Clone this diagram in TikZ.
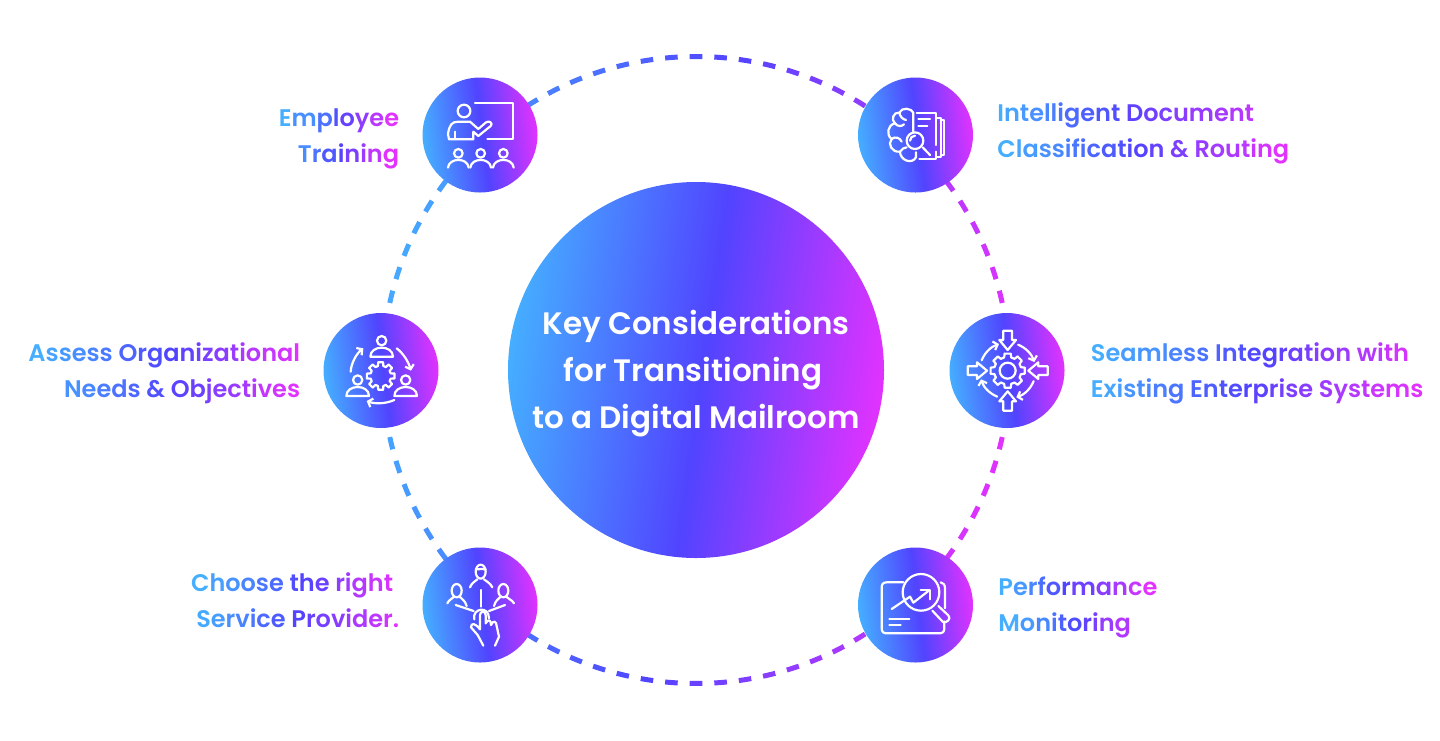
\documentclass[tikz,border=0pt]{standalone}
\usepackage{fontspec}
\setmainfont{Poppins SemiBold}
\usetikzlibrary {arrows.meta, positioning}

\definecolor{gradsky}{HTML}{45AEFF}
\definecolor{graddeep}{HTML}{5144FF}
\definecolor{gradpink}{HTML}{E232FF}

\pgfdeclarehorizontalshading{corefill}{100bp}{
    color(0bp)=(gradsky); color(25bp)=(gradsky); color(51bp)=(graddeep);
    color(75bp)=(gradpink); color(100bp)=(gradpink)
}

\newcommand{\setgrad}[1]{%
    \pgfmathsetmacro\gradpct{max(0,min(100,#1<.5 ? 200*#1 : 200*(#1-.5)))}%
    \pgfmathparse{#1<.5 ? 1 : 0}%
    \ifnum\pgfmathresult>0
        \colorlet{gradnow}{graddeep!\gradpct!gradsky}%
    \else
        \colorlet{gradnow}{gradpink!\gradpct!graddeep}%
    \fi
}

\ExplSyntaxOn
\int_new:N \l_gradpos_int
\NewDocumentCommand{\gradline}{mmm}{
    \int_zero:N \l_gradpos_int
    \str_map_inline:nn {#3}{
        \int_incr:N \l_gradpos_int
        \setgrad{\fp_eval:n {#1 + (#2 - #1) * (\l_gradpos_int - 1) / (\str_count:n {#3} - 1)}}
        {\color{gradnow}{}##1}
    }
}
\ExplSyntaxOff

\newcommand{\gearwheel}[4]{%
    \foreach \a in {0,45,...,315} {
        \draw[iconline]
            ([shift={(#1,#2)}]\a-10:#3) -- ([shift={(#1,#2)}]\a+10:#3)
            -- ([shift={(#1,#2)}]\a+15:#4) -- ([shift={(#1,#2)}]\a+30:#4)
            -- ([shift={(#1,#2)}]\a+35:#3);
    }
}

\tikzset{
    core/.style={circle, minimum size=376pt, inner sep=0pt, shading=corefill, shading angle=-8},
    coretitle/.style={inner sep=0pt, text=white, align=center, font=\fontsize{31}{47}\selectfont},
    hub/.style={circle, minimum size=115pt, inner sep=0pt, shading=corefill, shading angle=7},
    labelnote/.style={inner sep=0pt, font=\fontsize{24}{36}\selectfont},
    iconline/.style={draw=white, line width=2.2pt, line cap=round, line join=round},
    iconarrow/.style={iconline, -{Straight Barb[length=4pt,width=9pt]}},
}

\begin{document}
\begin{tikzpicture}[x=1pt, y=-1pt]
    \useasboundingbox (0,0) rectangle (1440,740);

    \node[core] (core) at (696,370) {};
    \node[coretitle, yshift=-4pt] (coretext) at (core)
        {Key Considerations\\for Transitioning\hspace*{6pt}\mbox{}\\to a Digital Mailroom};

    \foreach \a in {0,4.5,...,355.5} {
        \pgfmathsetmacro\gradpos{.51+.49*(cos(\a)*cos(8)+sin(\a)*sin(8))}
        \setgrad{\gradpos}
        \draw[gradnow, line width=5pt] (core.center) ++(\a-1.15:313.5)
            arc[start angle=\a-1.15, delta angle=2.3, radius=313.5];
    }

    \node[hub] (training)    at (480,135)   {};
    \node[hub] (classify)    at (915.5,135) {};
    \node[hub] (assess)      at (381,370.5) {};
    \node[hub] (integration) at (1007,370.5) {};
    \node[hub] (provider)    at (480,605)   {};
    \node[hub] (monitoring)  at (915.5,605) {};

    \node[labelnote, align=right, left=23pt of training, yshift=-4pt]
        (trainingtext) {\gradline{0}{1}{Employee}\\\gradline{.16}{1}{Training}};
    \node[labelnote, align=left, right=24pt of classify, yshift=2pt]
        (classifytext) {\gradline{0}{.88}{Intelligent Document}\\\gradline{0}{1}{Classification & Routing}};
    \node[labelnote, align=right, left=23pt of assess, yshift=-3pt]
        (assesstext) {\gradline{0}{1}{Assess Organizational}\\\gradline{.13}{1}{Needs & Objectives}};
    \node[labelnote, align=left, right=26pt of integration, yshift=-3pt]
        (integrationtext) {\gradline{0}{.955}{Seamless Integration with}\\\gradline{0}{1}{Existing Enterprise Systems}};
    \node[labelnote, align=right, left=23pt of provider, yshift=5pt]
        (providertext) {\gradline{0}{.97}{Choose the right}\hspace*{6pt}\\\gradline{.02}{1}{Service Provider.}};
    \node[labelnote, align=left, right=25pt of monitoring, yshift=-2pt]
        (monitoringtext) {\gradline{0}{1}{Performance}\\\gradline{0}{.835}{Monitoring}};

    % employee training
    \begin{scope}[shift={(410,60)}, scale=1/3]
        \draw[iconline] (162,153) circle[radius=19];
        \draw[iconline] (190,238) -- (117,238) -- (114,222) .. controls (118,195) and (125,185) .. (145,185)
            -- (180,185) -- (205,207) -- (228,187) .. controls (238,180) and (250,190) .. (242,198)
            -- (205,228) -- (190,215) -- cycle;
        \draw[iconline] (135,215) -- (135,238);
        \draw[iconline] (195,128) -- (308,128) -- (308,238) -- (232,238);
        \foreach \sx in {145,212,280} {
            \draw[iconline] (\sx,280) circle[radius=13];
            \draw[iconline] ({\sx-31},323) .. controls ({\sx-28},292) and ({\sx+28},292) .. ({\sx+31},323);
        }
    \end{scope}

    % document classification
    \begin{scope}[shift={(850,70)}, scale=1/3]
        \draw[iconline] (190,185) -- (190,128) .. controls (185,115) and (155,110) .. (148,128)
            .. controls (130,125) and (122,150) .. (135,160) .. controls (112,165) and (108,195) .. (125,207)
            .. controls (112,222) and (125,248) .. (150,245) .. controls (150,270) and (185,285) .. (198,262)
            -- (198,247);
        \draw[iconline] (148,128) .. controls (150,140) and (158,148) .. (168,150);
        \draw[iconline] (135,160) .. controls (142,170) and (155,170) .. (162,163);
        \draw[iconline] (125,207) .. controls (135,198) and (150,203) .. (155,215);
        \draw[iconline] (150,245) .. controls (155,237) and (163,232) .. (170,232);
        \draw[iconline] (200,128) -- (258,128) -- (258,225);
        \draw[iconline] (258,245) -- (258,268) -- (208,268);
        \draw[iconline] (258,143) -- (272,143) -- (272,262) -- (258,262);
        \draw[iconline] (272,150) -- (283,150) -- (283,255) -- (272,255);
        \draw[iconline] (205,148) -- (240,148);
        \draw[iconline] (205,168) -- (232,168);
        \draw[iconline] (195,212) circle[radius=25];
        \draw[iconline] (180,212) .. controls (180,204) and (187,197) .. (195,197);
        \draw[iconline] (218,232) -- (240,255);
    \end{scope}

    % organizational needs
    \begin{scope}[shift={(315,305)}, scale=1/3]
        \foreach \px/\py in {200/107,128/225,272/225} {
            \draw[iconline] (\px,\py) circle[radius=14];
            \draw[iconline] ({\px-34},{\py+48}) .. controls ({\px-34},{\py+12}) and ({\px+34},{\py+12})
                .. ({\px+34},{\py+48}) -- cycle;
        }
        \gearwheel{197}{213}{42}{31}
        \draw[iconarrow] (245,130) .. controls (265,145) and (280,170) .. (288,197);
        \draw[iconarrow] (238,285) .. controls (210,297) and (180,297) .. (155,288);
        \draw[iconarrow] (107,200) .. controls (108,175) and (125,145) .. (145,130);
    \end{scope}

    % enterprise integration
    \begin{scope}[shift={(940,305)}, scale=1/3]
        \gearwheel{203}{197}{52}{41}
        \draw[iconline] (203,197) circle[radius=24];
        \foreach \r in {0,90,180,270} {
            \begin{scope}[shift={(203,197)}, rotate=\r]
                \draw[iconline] (-13,-120) -- (13,-120) -- (13,-92) -- (25,-92) -- (0,-62)
                    -- (-25,-92) -- (-13,-92) -- cycle;
                \draw[iconarrow] (-68:84) arc[start angle=-68, delta angle=50, radius=84];
            \end{scope}
        }
    \end{scope}

    % service provider
    \begin{scope}[shift={(415,540)}, scale=1/3]
        \draw[iconline] (197,95) ellipse[x radius=15, y radius=21];
        \draw[iconline] (183,88) .. controls (195,88) and (205,85) .. (212,88);
        \draw[iconline] (165,142) .. controls (170,128) and (180,125) .. (187,118);
        \draw[iconline] (207,118) .. controls (215,125) and (225,128) .. (232,142);
        \draw[iconline] (125,152) ellipse[x radius=15, y radius=20];
        \draw[iconline] (97,190) .. controls (103,178) and (110,178) .. (116,171);
        \draw[iconline] (135,171) .. controls (140,178) and (150,180) .. (155,198);
        \draw[iconline] (265,152) ellipse[x radius=15, y radius=20];
        \draw[iconline] (237,198) .. controls (242,180) and (250,178) .. (256,171);
        \draw[iconline] (275,171) .. controls (280,178) and (290,178) .. (297,190);
        \draw[iconline] (197,150) -- (197,200);
        \draw[iconline] (122,195) -- (176,213);
        \draw[iconline] (270,195) -- (222,213);
        \draw[iconline] (178,238) .. controls (170,205) and (222,195) .. (222,235);
        \draw[iconline] (205,317) -- (188,285) -- (168,262) .. controls (168,248) and (180,248) .. (195,268)
            -- (195,225) .. controls (195,212) and (212,212) .. (212,225) -- (212,250)
            .. controls (220,235) and (228,240) .. (228,255) .. controls (235,238) and (245,245) .. (245,258)
            -- (252,290) -- (240,317);
    \end{scope}

    % performance monitoring
    \begin{scope}[shift={(850,540)}, scale=1/3]
        \draw[iconline] (160,127) -- (110,127) .. controls (100,127) and (95,132) .. (95,142) -- (95,265)
            .. controls (95,275) and (100,280) .. (110,280) -- (268,280) .. controls (278,280) and (283,275) .. (283,265)
            -- (283,245);
        \draw[iconline] (272,127) .. controls (280,127) and (285,135) .. (285,145) -- (285,205);
        \draw[iconline] (213,157) circle[radius=55];
        \draw[iconline] (247,212) -- (278,245) .. controls (290,252) and (305,235) .. (295,226) -- (265,198);
        \draw[iconline] (125,207) -- (180,170) -- (190,188) -- (235,153);
        \draw[iconline] (212,150) -- (240,150) -- (240,178);
        \draw[iconline] (118,237) -- (178,237);
        \draw[iconline] (118,255) -- (152,255);
    \end{scope}
\end{tikzpicture}
\end{document}
